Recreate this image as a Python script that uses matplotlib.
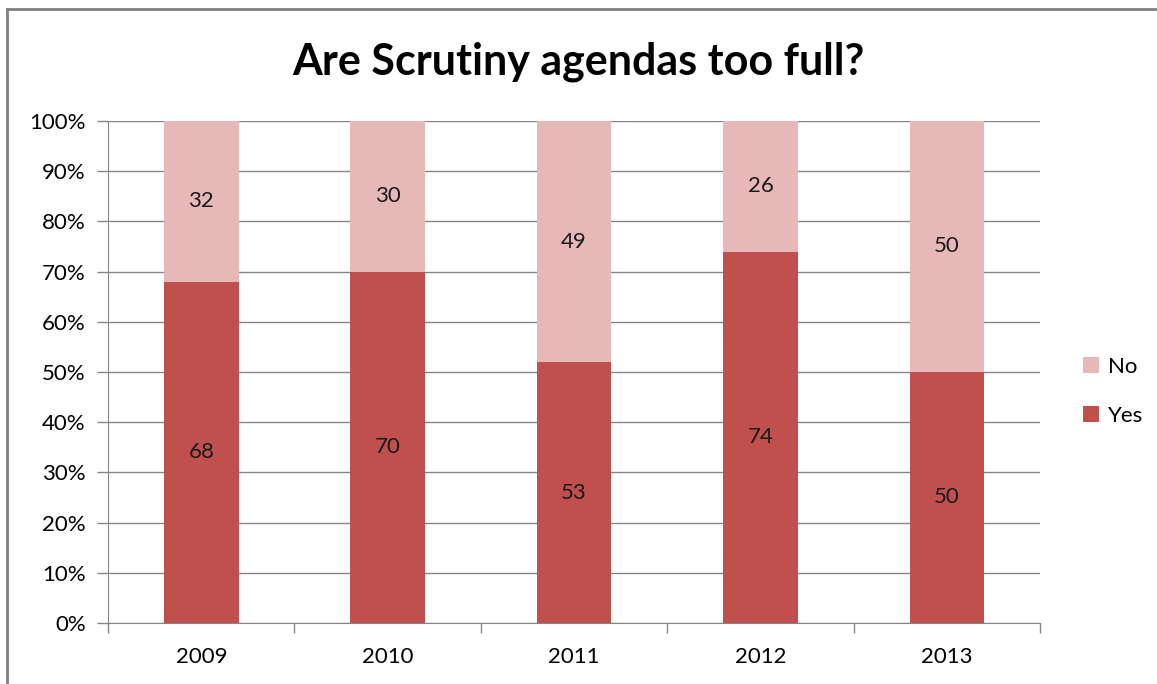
import matplotlib.pyplot as plt
import numpy as np
from matplotlib.lines import Line2D

plt.rcParams['font.family'] = ['Lato', 'DejaVu Sans']

# -----------------------
years = ['2009', '2010', '2011', '2012', '2013']
yes = np.array([68, 70, 53, 74, 50])
no = np.array([32, 30, 49, 26, 50])
yes_color = '#C0504D'
no_color = '#E6B9B8'
grid_color = '#868686'
# -----------------------

total = yes + no
yes_pct = yes / total * 100
no_pct = no / total * 100

fig = plt.figure(figsize=(11.57, 6.84), dpi=100)
ax = fig.add_axes([0.0934, 0.0892, 0.8055, 0.7339])

x = np.arange(len(years))
b_yes = ax.bar(x, yes_pct, width=0.4, color=yes_color, label='Yes', zorder=3)
b_no = ax.bar(x, no_pct, width=0.4, bottom=yes_pct, color=no_color, label='No', zorder=3)

for i in range(len(years)):
    ax.text(x[i], yes_pct[i] / 2, str(yes[i]), ha='center', va='center', fontsize=16, color='#1a1a1a', zorder=4)
    ax.text(x[i], yes_pct[i] + no_pct[i] / 2, str(no[i]), ha='center', va='center', fontsize=16, color='#1a1a1a', zorder=4)

ax.set_xlim(-0.5, len(years) - 0.5)
ax.set_ylim(0, 100)
ax.set_yticks(np.arange(0, 101, 10))
ax.set_yticklabels([f'{v}%' for v in range(0, 101, 10)], fontsize=16)
ax.yaxis.grid(True, color=grid_color, linewidth=1, zorder=0)

# category boundaries get the tick marks, labels sit between them
ax.set_xticks(np.arange(-0.5, len(years), 1.0))
ax.set_xticklabels([])
ax.set_xticks(x, minor=True)
ax.set_xticklabels(years, minor=True, fontsize=16)
ax.tick_params(axis='x', which='major', length=7, color=grid_color, width=1)
ax.tick_params(axis='x', which='minor', length=0, pad=17)
ax.tick_params(axis='y', length=8, color=grid_color, width=1, pad=8)

for side in ['top', 'right']:
    ax.spines[side].set_visible(False)
ax.spines['left'].set_color(grid_color)
ax.spines['bottom'].set_color(grid_color)

fig.text(0.5, 0.909, 'Are Scrutiny agendas too full?', ha='center', va='center',
         fontsize=31, fontweight='bold')

handles = [b_no, b_yes]
ax.legend(handles, ['No', 'Yes'], loc='center left', bbox_to_anchor=(0.919, 0.428),
          bbox_transform=fig.transFigure, frameon=False, fontsize=16,
          handlelength=0.7, handleheight=0.7, handletextpad=0.4, labelspacing=1.3)

# outer chart frame
fig.add_artist(Line2D([7 / 1157, 7 / 1157], [0, 1 - 9 / 684], transform=fig.transFigure, color='#808080', linewidth=2))
fig.add_artist(Line2D([7 / 1157, 1], [1 - 9 / 684, 1 - 9 / 684], transform=fig.transFigure, color='#808080', linewidth=2))

fig.savefig('out.png', dpi=100)
